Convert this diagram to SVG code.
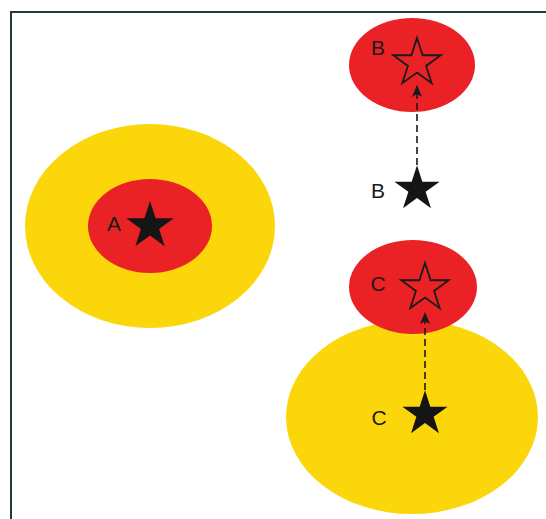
<svg xmlns="http://www.w3.org/2000/svg" width="546" height="519" viewBox="0 0 546 519">
<style>
.yellow{fill:#fbd60a}
.red{fill:#ea2226}
.lbl{font-family:"Liberation Sans",Arial,sans-serif;font-size:21px;fill:#1a1a1a;text-anchor:middle;dominant-baseline:central}
.solid{fill:#151515}
.hollow{fill:none;stroke:#1a1a1a;stroke-width:1.8;stroke-linejoin:miter}
.conn{stroke:#1a1a1a;stroke-width:1.6;stroke-dasharray:7 4;fill:none}
</style>
<defs>
<path id="star" d="M0,-25 L5.61,-7.73 L23.78,-7.73 L9.08,2.95 L14.69,20.23 L0,9.55 L-14.69,20.23 L-9.08,2.95 L-23.78,-7.73 L-5.61,-7.73 Z"/>
<marker id="arr" viewBox="0 0 12 10" refX="11" refY="5" markerWidth="12" markerHeight="10" markerUnits="userSpaceOnUse" orient="auto">
<path d="M0,0 L12,5 L0,10 L3,5 Z" fill="#1a1a1a"/>
</marker>
</defs>
<rect width="546" height="519" fill="#fff"/>
<path d="M11,519 V12 H546" fill="none" stroke="#203a40" stroke-width="2"/>
<g id="nodeA">
<ellipse class="yellow" cx="150" cy="226" rx="125" ry="102"/>
<ellipse class="red" cx="150" cy="226" rx="62" ry="47"/>
<use href="#star" class="solid" transform="translate(150,226)"/>
<text class="lbl" x="114" y="223">A</text>
</g>
<g id="nodeB-target">
<ellipse class="red" cx="412" cy="65" rx="63" ry="47"/>
<use href="#star" class="hollow" transform="translate(417,63)"/>
<text class="lbl" x="378" y="47">B</text>
</g>
<g id="nodeB-source">
<use href="#star" class="solid" transform="translate(417,189) scale(0.95)"/>
<text class="lbl" x="378" y="190">B</text>
</g>
<g id="nodeC-source">
<ellipse class="yellow" cx="412" cy="417" rx="126" ry="97"/>
<use href="#star" class="solid" transform="translate(425,414) scale(0.95)"/>
<text class="lbl" x="379" y="417">C</text>
</g>
<g id="nodeC-target">
<ellipse class="red" cx="413" cy="287" rx="64" ry="47"/>
<use href="#star" class="hollow" transform="translate(425,288)"/>
<text class="lbl" x="378" y="283">C</text>
</g>
<g id="connectors">
<line class="conn" x1="417" y1="165" x2="417" y2="86" marker-end="url(#arr)"/>
<line class="conn" x1="425" y1="390" x2="425" y2="313" marker-end="url(#arr)"/>
</g>
</svg>
